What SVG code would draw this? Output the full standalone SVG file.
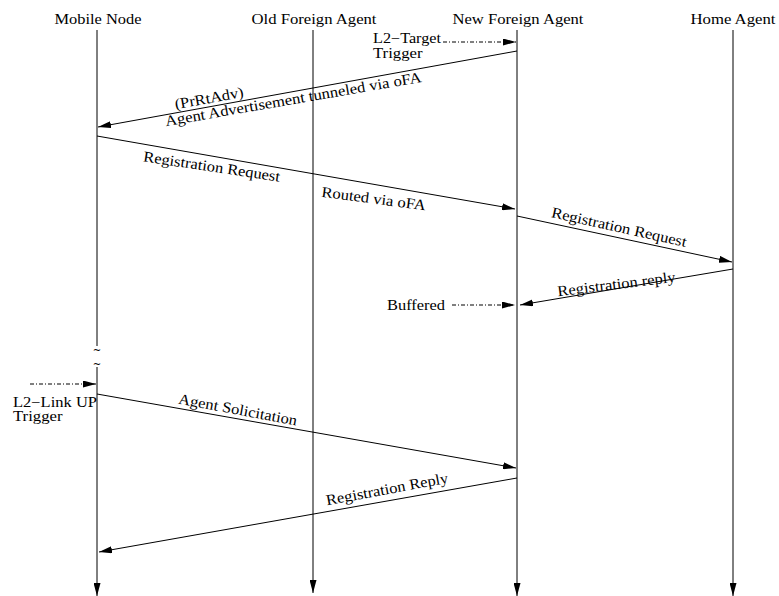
<svg xmlns="http://www.w3.org/2000/svg" width="779" height="596" viewBox="0 0 779 596">
<defs>
<style>
text{font-family:"Liberation Serif","Times New Roman",serif;font-size:15px;fill:#000}
.small{font-size:14px}
.tilde{font-family:"DejaVu Sans",sans-serif;font-size:10px}
.life{stroke:#000;stroke-width:1;fill:none}
.msg{stroke:#000;stroke-width:1;fill:none;marker-end:url(#ah)}
.dd{stroke:#000;stroke-width:1;fill:none;stroke-dasharray:4 2 1 2;marker-end:url(#ah)}
</style>
<marker id="ah" markerUnits="userSpaceOnUse" viewBox="0 0 13 7" markerWidth="13" markerHeight="7" refX="13" refY="3.5" orient="auto">
<path d="M0,0 L13,3.5 L0,7 Z" fill="#000"/>
</marker>
</defs>
<rect width="779" height="596" fill="#fff"/>
<g id="mobile-node">
<text x="98" y="24" text-anchor="middle" textLength="87" lengthAdjust="spacingAndGlyphs">Mobile Node</text>
<line class="life" x1="97" y1="30" x2="97" y2="346"/>
<text class="tilde" text-anchor="middle"><tspan x="97" y="354">~</tspan><tspan x="97" y="368">~</tspan></text>
<line class="msg" x1="97" y1="367" x2="97" y2="596"/>
</g>
<g id="old-foreign-agent">
<text x="314" y="24" text-anchor="middle" textLength="125" lengthAdjust="spacingAndGlyphs">Old Foreign Agent</text>
<line class="msg" x1="313" y1="30" x2="313" y2="593"/>
</g>
<g id="new-foreign-agent">
<text x="518" y="24" text-anchor="middle" textLength="131" lengthAdjust="spacingAndGlyphs">New Foreign Agent</text>
<line class="msg" x1="517" y1="30" x2="517" y2="596"/>
</g>
<g id="home-agent">
<text x="733" y="24" text-anchor="middle" textLength="85" lengthAdjust="spacingAndGlyphs">Home Agent</text>
<line class="msg" x1="733" y1="30" x2="733" y2="596"/>
</g>
<g id="connectors">
<line class="dd" x1="443" y1="42" x2="516" y2="42"/>
<text class="small"><tspan x="373" y="43" textLength="68" lengthAdjust="spacingAndGlyphs">L2−Target</tspan><tspan x="373" y="57.5" textLength="49.5" lengthAdjust="spacingAndGlyphs">Trigger</tspan></text>
<line class="msg" x1="517" y1="51" x2="98" y2="127"/>
<text x="210" y="103" text-anchor="middle" transform="rotate(-10.3 210 103)" textLength="69.7" lengthAdjust="spacingAndGlyphs">(PrRtAdv)</text>
<text x="294" y="104" text-anchor="middle" transform="rotate(-9.8 294 104)" textLength="260" lengthAdjust="spacingAndGlyphs">Agent Advertisement tunneled via oFA</text>
<line class="msg" x1="97" y1="136" x2="515" y2="209"/>
<text x="211" y="171.5" text-anchor="middle" transform="rotate(8.5 211 171.5)" textLength="138" lengthAdjust="spacingAndGlyphs">Registration Request</text>
<text x="373" y="203.5" text-anchor="middle" transform="rotate(7.5 373 203.5)" textLength="105" lengthAdjust="spacingAndGlyphs">Routed via oFA</text>
<line class="msg" x1="517" y1="216" x2="732" y2="262"/>
<text x="618" y="232" text-anchor="middle" transform="rotate(12.5 618 232)" textLength="138" lengthAdjust="spacingAndGlyphs">Registration Request</text>
<line class="msg" x1="733" y1="269" x2="520" y2="305"/>
<text x="617" y="289" text-anchor="middle" transform="rotate(-7 617 289)" textLength="118.7" lengthAdjust="spacingAndGlyphs">Registration reply</text>
<line class="dd" x1="452" y1="305" x2="515" y2="305"/>
<text x="387" y="310" textLength="58" lengthAdjust="spacingAndGlyphs">Buffered</text>
<line class="dd" x1="30" y1="384" x2="96" y2="384"/>
<text class="small"><tspan x="13" y="406.5" textLength="84" lengthAdjust="spacingAndGlyphs">L2−Link UP</tspan><tspan x="13" y="421" textLength="49.5" lengthAdjust="spacingAndGlyphs">Trigger</tspan></text>
<line class="msg" x1="97" y1="394" x2="516" y2="468"/>
<text x="237" y="414.5" text-anchor="middle" transform="rotate(10.5 237 414.5)" textLength="120.5" lengthAdjust="spacingAndGlyphs">Agent Solicitation</text>
<line class="msg" x1="517" y1="478" x2="99" y2="552"/>
<text x="388" y="494" text-anchor="middle" transform="rotate(-10.5 388 494)" textLength="124" lengthAdjust="spacingAndGlyphs">Registration Reply</text>
</g>
</svg>
